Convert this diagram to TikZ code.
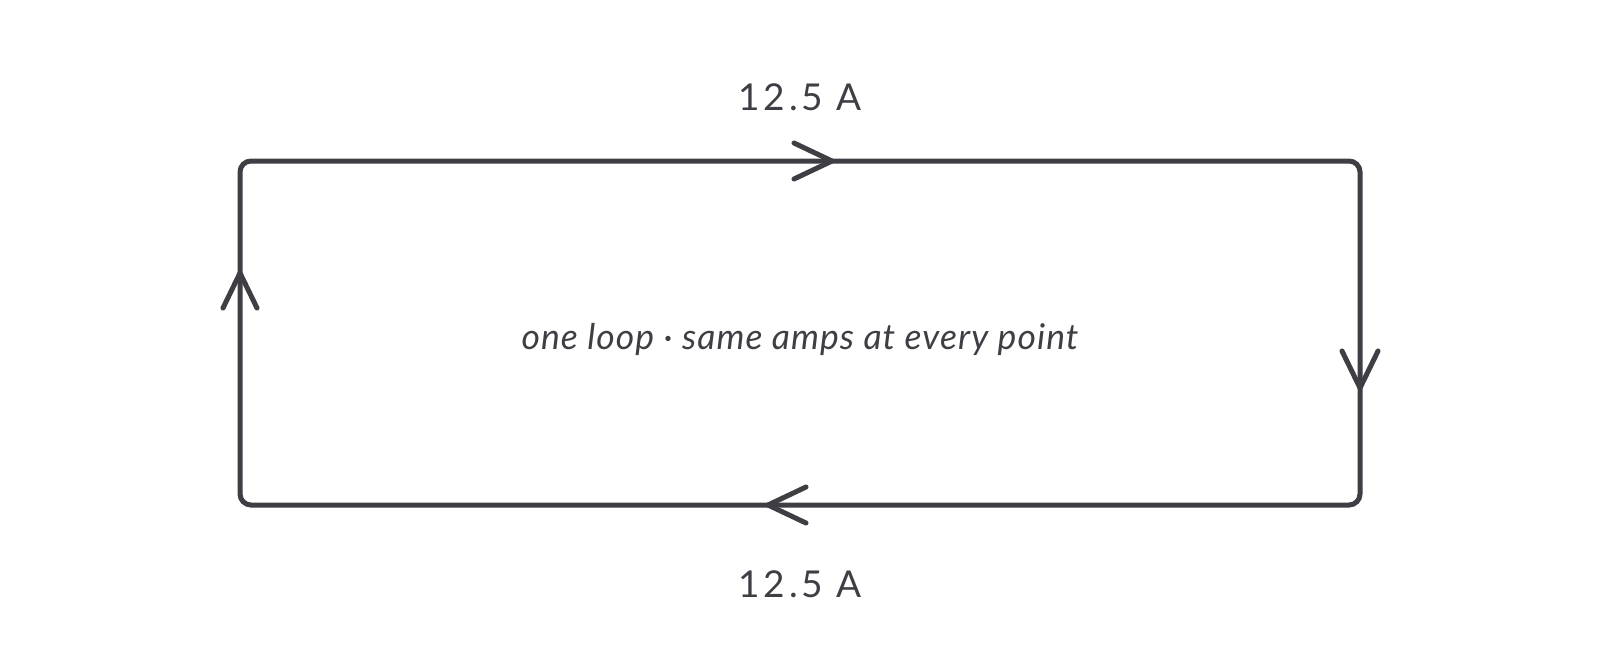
\documentclass[tikz,border=0pt]{standalone}
\usepackage{fontspec}
\setmainfont{Lato}
\usetikzlibrary{calc}
\definecolor{ink}{RGB}{62,62,68}
\begin{document}
\begin{tikzpicture}[x=1pt,y=-1pt,
  wire/.style={draw=ink, line width=5pt, rounded corners=11pt},
  tipv/.style={draw=ink, line width=5pt, line cap=round, line join=round},
  amps/.style={text=ink, font=\fontsize{37}{40}\selectfont\addfontfeature{LetterSpace=10}, inner sep=0pt},
  note/.style={text=ink, font=\itshape\fontsize{35.5}{40}\selectfont\addfontfeature{LetterSpace=3}, inner sep=0pt}]
\useasboundingbox (0,0) rectangle (1600,667);
\coordinate (tl) at (240,161);
\coordinate (tr) at (1360,161);
\coordinate (br) at (1360,505);
\coordinate (bl) at (240,505);
\coordinate (lm) at (240,400);
\draw[wire] (lm) -- (tl) -- (tr) -- (br) -- (bl) -- cycle;
% arrowheads
\coordinate (ta) at (832,161);
\coordinate (ra) at (1360,388);
\coordinate (ba) at (768,505);
\coordinate (la) at (240,273);
\draw[tipv] ($(ta)+(-38,-18)$) -- (ta) -- ($(ta)+(-38,18)$);
\draw[tipv] ($(ra)+(-18,-37)$) -- (ra) -- ($(ra)+(18,-37)$);
\draw[tipv] ($(ba)+(38,-18)$) -- (ba) -- ($(ba)+(38,18)$);
\draw[tipv] ($(la)+(-17,35)$) -- (la) -- ($(la)+(17,35)$);
\node[amps] (top) at (800,97) {12.5 A};
\node[amps] (bot) at (800,584) {12.5 A};
\node[note] (mid) at (800,339) {one loop · same amps at every point};
\end{tikzpicture}
\end{document}
